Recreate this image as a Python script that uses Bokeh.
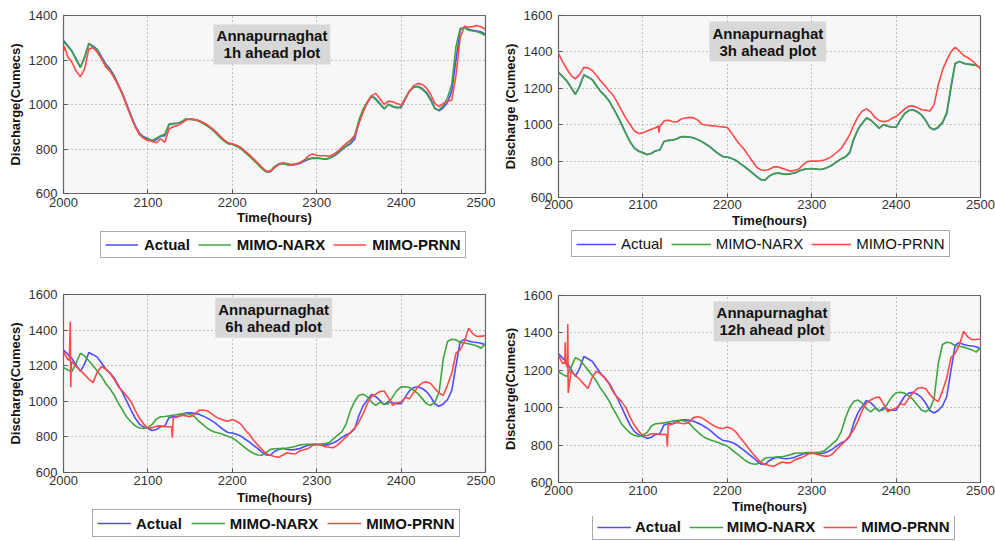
from bokeh.plotting import figure
from bokeh.models import Range1d, Legend, LegendItem, Label
from bokeh.layouts import column, row
from bokeh.embed import file_html
from bokeh.resources import INLINE

# Hourly discharge at Annapurnaghat (cumecs), sampled every 5 hours
HOURS = list(range(2000, 2501, 5))

ACTUAL = [
    1288, 1265, 1240, 1205, 1168, 1210, 1274, 1262, 1248, 1215,
    1183, 1160, 1131, 1090, 1049, 1000, 951, 905, 872, 855,
    847, 836, 842, 857, 860, 908, 914, 915, 922, 934,
    935, 932, 928, 918, 907, 893, 877, 857, 839, 825,
    822, 815, 805, 788, 772, 753, 735, 715, 698, 697,
    718, 730, 735, 730, 727, 730, 735, 745, 753, 758,
    759, 757, 754, 758, 767, 780, 797, 812, 822, 845,
    920, 975, 1008, 1038, 1026, 1004, 981, 1000, 992, 987,
    986, 1025, 1060, 1078, 1082, 1072, 1055, 1025, 985, 972,
    985, 1010, 1060, 1200, 1335, 1348, 1338, 1333, 1330, 1326,
    1315,
]

NARX_1H = [
    1282, 1262, 1238, 1200, 1166, 1215, 1272, 1258, 1244, 1210,
    1178, 1155, 1126, 1085, 1043, 994, 946, 900, 868, 852,
    845, 838, 848, 860, 866, 912, 914, 916, 924, 935,
    934, 930, 926, 915, 904, 890, 873, 853, 836, 824,
    820, 812, 802, 785, 768, 750, 732, 712, 697, 700,
    722, 733, 735, 729, 728, 732, 738, 748, 756, 760,
    760, 757, 755, 760, 770, 785, 800, 815, 828, 860,
    930, 980, 1012, 1038, 1022, 1000, 980, 1002, 990, 984,
    990, 1030, 1062, 1078, 1080, 1068, 1050, 1018, 980, 975,
    995, 1030, 1090, 1260, 1342, 1345, 1334, 1330, 1327, 1320,
    1310,
]

PRNN_1H = [
    1240, 1215, 1190, 1150, 1125, 1160, 1250, 1255, 1235, 1205,
    1170, 1150, 1120, 1085, 1045, 995, 945, 900, 865, 848,
    838, 835, 828, 845, 830, 890, 900, 905, 915, 930,
    934, 933, 928, 920, 909, 895, 880, 860, 842, 828,
    824, 817, 807, 790, 775, 757, 738, 718, 702, 700,
    715, 732, 738, 735, 730, 733, 738, 750, 768, 778,
    772, 770, 770, 768, 776, 790, 808, 825, 840, 860,
    915, 965, 1010, 1040, 1050, 1025, 1000, 1015, 1012, 1005,
    998, 1025, 1060, 1085, 1095, 1090, 1075, 1045, 1005, 990,
    1005, 1015, 1020, 1130, 1300, 1352, 1348, 1350, 1355, 1348,
    1338,
]
PRNN_1H_EXTRA_H = [2001]
PRNN_1H_EXTRA_V = [1262]

NARX_3H = [
    1286, 1264, 1238, 1203, 1166, 1212, 1272, 1261, 1246, 1213,
    1181, 1158, 1129, 1088, 1046, 998, 949, 903, 870, 853,
    845, 835, 843, 856, 862, 907, 913, 915, 923, 933,
    934, 931, 927, 917, 906, 891, 875, 855, 838, 824,
    821, 814, 804, 787, 770, 752, 733, 714, 697, 698,
    719, 731, 734, 730, 728, 731, 736, 746, 754, 758,
    758, 756, 754, 759, 768, 782, 798, 813, 824, 850,
    925, 978, 1010, 1036, 1024, 1002, 980, 1001, 991, 986,
    987, 1027, 1061, 1078, 1080, 1070, 1053, 1022, 983, 973,
    988, 1015, 1068, 1215, 1338, 1347, 1337, 1333, 1329, 1325,
    1314,
]

PRNN_3H = [
    1390, 1345, 1305, 1270, 1252, 1275, 1315, 1312, 1298, 1270,
    1240, 1215, 1185, 1160, 1120, 1076, 1035, 1000, 965, 952,
    955, 965, 975, 983, 990, 1020, 1025, 1018, 1015, 1030,
    1037, 1040, 1038, 1025, 1002, 998, 995, 993, 990, 988,
    985, 955, 920, 890, 865, 830, 798, 765, 752, 748,
    755, 768, 768, 760, 752, 745, 750, 757, 780, 798,
    800, 800, 802, 806, 815, 830, 850, 870, 905, 945,
    1000, 1045, 1075, 1087, 1070, 1040, 1022, 1017, 1020, 1035,
    1045, 1065, 1085, 1102, 1102, 1095, 1082, 1080, 1075, 1110,
    1220, 1300, 1355, 1400, 1425, 1405, 1380, 1368, 1352, 1330,
    1307,
]
PRNN_3H_EXTRA_H = [2118, 2119]
PRNN_3H_EXTRA_V = [993, 956]

NARX_6H = [
    1190, 1176, 1168, 1215, 1270, 1255, 1228, 1200, 1170, 1140,
    1100, 1070, 1035, 990, 950, 910, 885, 862, 850, 847,
    853, 870, 900, 913, 915, 918, 922, 926, 930, 932,
    926, 915, 890, 870, 850, 835, 826, 820, 812, 802,
    795, 778, 760, 740, 722, 708, 698, 697, 712, 730,
    733, 735, 736, 738, 742, 748, 755, 757, 758, 759,
    759, 760, 762, 768, 790, 810, 830, 874, 949, 1000,
    1034, 1040, 1025, 996, 977, 996, 983, 987, 1025, 1060,
    1081, 1082, 1077, 1062, 1043, 1015, 987, 977, 996, 1050,
    1240, 1336, 1349, 1345, 1330, 1328, 1323, 1318, 1311, 1298,
    1326,
]

PRNN_6H = [
    1277, 1235, 1222, 1195, 1174, 1150, 1125, 1105, 1165, 1196,
    1180, 1158, 1125, 1082, 1056, 1030, 998, 948, 905, 872,
    849, 852, 860, 862, 858, 857, 908, 912, 922, 918,
    913, 925, 948, 951, 947, 932, 914, 902, 893, 888,
    898, 888, 872, 840, 815, 783, 755, 730, 706, 697,
    690, 685, 698, 711, 706, 705, 722, 728, 735, 752,
    756, 754, 745, 742, 740, 755, 778, 800, 826, 850,
    883, 930, 987, 1028, 1040, 1055, 1058, 1021, 977, 991,
    996, 1021, 1015, 1050, 1081, 1104, 1109, 1100, 1072, 1045,
    1034, 1091, 1157, 1270, 1289, 1336, 1411, 1379, 1364, 1366,
    1368,
]
PRNN_6H_EXTRA_H = [2007, 2008, 2008.6, 2009.3, 2128, 2129]
PRNN_6H_EXTRA_V = [1230, 1447, 1079, 1222, 857, 796]

NARX_12H = [
    1192, 1178, 1166, 1218, 1268, 1256, 1230, 1202, 1172, 1142,
    1102, 1072, 1036, 992, 952, 912, 886, 864, 851, 846,
    852, 868, 902, 914, 916, 919, 923, 928, 931, 933,
    927, 916, 891, 871, 851, 836, 827, 821, 813, 803,
    795, 777, 759, 741, 722, 707, 699, 698, 713, 731,
    734, 735, 737, 738, 743, 749, 756, 758, 758, 760,
    760, 760, 763, 769, 789, 809, 829, 872, 945, 1002,
    1035, 1041, 1024, 995, 978, 997, 984, 988, 1024, 1058,
    1080, 1083, 1078, 1063, 1044, 1016, 988, 978, 995, 1048,
    1238, 1338, 1350, 1346, 1331, 1329, 1324, 1317, 1309, 1297,
    1322,
]

PRNN_12H = [
    1279, 1236, 1225, 1196, 1172, 1152, 1126, 1103, 1163, 1195,
    1181, 1157, 1126, 1083, 1055, 1031, 999, 947, 906, 874,
    850, 851, 861, 861, 857, 858, 906, 913, 921, 917,
    914, 924, 947, 952, 946, 931, 915, 901, 892, 889,
    897, 889, 871, 841, 814, 784, 756, 729, 707, 696,
    691, 686, 699, 710, 705, 706, 721, 729, 736, 751,
    757, 753, 746, 741, 741, 754, 779, 801, 825, 851,
    884, 931, 986, 1027, 1041, 1054, 1057, 1022, 978, 990,
    997, 1020, 1016, 1051, 1080, 1103, 1108, 1101, 1071, 1046,
    1033, 1090, 1158, 1268, 1290, 1337, 1409, 1378, 1363, 1365,
    1367,
]
PRNN_12H_EXTRA_H = [2007.5, 2008, 2008.5, 2010.5, 2011, 2011.5, 2128, 2129]
PRNN_12H_EXTRA_V = [1240, 1350, 1235, 1215, 1447, 1079, 857, 792]

X_TICKS = [2000, 2100, 2200, 2300, 2400, 2500]
Y_TICKS_1H = [600, 800, 1000, 1200, 1400]
Y_TICKS = [600, 800, 1000, 1200, 1400, 1600]
SERIES_NAMES = ["Actual", "MIMO-NARX", "MIMO-PRNN"]

FONT = "Liberation Sans"
COLORS = ["#4d4dff", "#3fa53f", "#ff4848"]
LINE_W = 1.6


def with_spikes(hours, values, extra_h, extra_v):
    pts = sorted(zip(list(hours) + list(extra_h), list(values) + list(extra_v)))
    return [h for h, _ in pts], [v for _, v in pts]


def chart(cfg, narx, prnn_h, prnn_v):
    p = figure(width=cfg["w"], height=cfg["h"],
               x_range=Range1d(2000, 2500), y_range=Range1d(600, cfg["ymax"]),
               output_backend="svg", toolbar_location=None,
               min_border_left=63, min_border_right=cfg["br"],
               min_border_top=cfg["bt"], min_border_bottom=cfg["bb"],
               background_fill_color="#f7f7f7", border_fill_color="white",
               outline_line_color="#666666", outline_line_width=1.2)

    for ax in (p.xaxis[0], p.yaxis[0]):
        ax.axis_line_color = None
        ax.major_tick_in = 4
        ax.major_tick_out = 0
        ax.major_tick_line_color = "#555555"
        ax.minor_tick_line_color = None
        ax.major_label_text_font = FONT
        ax.major_label_text_font_size = "13px"
        ax.major_label_text_color = "#333333"
        ax.axis_label_text_font = FONT
        ax.axis_label_text_font_size = "13px"
        ax.axis_label_text_font_style = "bold"
        ax.axis_label_text_color = "#111111"

    p.xaxis.ticker = X_TICKS
    p.yaxis.ticker = cfg["yticks"]
    p.xaxis.axis_label = "Time(hours)"
    p.yaxis.axis_label = cfg["ylabel"]
    p.xaxis.major_label_standoff = cfg["xls"]
    p.xaxis.axis_label_standoff = cfg["xas"]
    p.yaxis.major_label_standoff = 6
    p.yaxis.axis_label_standoff = 3

    for g in (p.xgrid[0], p.ygrid[0]):
        g.grid_line_color = "#8a8a8a"
        g.grid_line_dash = "1 3"
        g.grid_line_width = 1

    p.line(HOURS, ACTUAL, color=COLORS[0], line_width=LINE_W)
    p.line(HOURS, narx, color=COLORS[1], line_width=LINE_W)
    p.line(prnn_h, prnn_v, color=COLORS[2], line_width=LINE_W)

    p.add_layout(Label(x=cfg["tx"], y=cfg["ty"], text=cfg["title"],
                       text_align="center", text_baseline="top",
                       text_font=FONT, text_font_size="15px",
                       text_font_style="bold", text_color="#111111",
                       text_line_height=1.0,
                       background_fill_color="#d8d8d8", padding=3))
    return p


def legend_strip(cfg):
    # a bare strip under each chart that only carries the boxed, horizontal legend;
    # its frame lines up with the chart frame above it
    s = figure(width=cfg["w"], height=cfg["sh"], x_range=Range1d(0, 1), y_range=Range1d(0, 1),
               x_axis_type=None, y_axis_type=None,
               output_backend="svg", toolbar_location=None, min_border=0,
               outline_line_color=None, background_fill_color="white",
               border_fill_color="white")
    s.grid.visible = False
    # key lines sit outside the strip's ranges, so only their legend swatches show
    keys = [s.line([5, 6], [5, 6], color=c, line_width=LINE_W) for c in COLORS]
    leg = Legend(items=[LegendItem(label=n, renderers=[r]) for n, r in zip(SERIES_NAMES, keys)],
                 orientation="horizontal", location=(cfg["lx"], cfg["ly"]),
                 padding=4, margin=0,
                 glyph_width=cfg["gw"], glyph_height=cfg["gh"],
                 label_height=cfg["gh"], label_standoff=cfg["lst"],
                 spacing=cfg["lsp"],
                 label_text_font=FONT, label_text_font_size="15px",
                 label_text_font_style=cfg["lstyle"], label_text_color="#111111",
                 border_line_color="#555555", border_line_width=1.2,
                 background_fill_color="white", background_fill_alpha=1)
    s.add_layout(leg)
    return s


c1 = chart(dict(w=495, h=230, br=10, bt=15, bb=37, ymax=1400, yticks=Y_TICKS_1H,
                ylabel="Discharge(Cumecs)", title="Annapurnaghat\n1h ahead plot",
                tx=2247, ty=1360, xls=4, xas=0),
           NARX_1H, *with_spikes(HOURS, PRNN_1H, PRNN_1H_EXTRA_H, PRNN_1H_EXTRA_V))
l1 = legend_strip(dict(w=495, sh=40, lx=37, ly=12, gw=33, gh=17, lst=6, lsp=8, lstyle="bold"))

c2 = chart(dict(w=500, h=230, br=15, bt=15, bb=33, ymax=1600, yticks=Y_TICKS,
                ylabel="Discharge (Cumecs)", title="Annapurnaghat\n3h ahead plot",
                tx=2248, ty=1567, xls=2, xas=1),
           NARX_3H, *with_spikes(HOURS, PRNN_3H, PRNN_3H_EXTRA_H, PRNN_3H_EXTRA_V))
l2 = legend_strip(dict(w=500, sh=40, lx=13, ly=13, gw=40, gh=16, lst=5, lsp=8, lstyle="normal"))

c3 = chart(dict(w=495, h=237, br=10, bt=24, bb=35, ymax=1600, yticks=Y_TICKS,
                ylabel="Discharge(Cumecs)", title="Annapurnaghat\n6h ahead plot",
                tx=2249, ty=1582, xls=3, xas=2),
           NARX_6H, *with_spikes(HOURS, PRNN_6H, PRNN_6H_EXTRA_H, PRNN_6H_EXTRA_V))
l3 = legend_strip(dict(w=495, sh=34, lx=29, ly=4, gw=34, gh=18, lst=5, lsp=9, lstyle="bold"))

c4 = chart(dict(w=500, h=246, br=15, bt=25, bb=34, ymax=1600, yticks=Y_TICKS,
                ylabel="Discharge(Cumecs)", title="Annapurnaghat\n12h ahead plot",
                tx=2253, ty=1568, xls=3, xas=1),
           NARX_12H, *with_spikes(HOURS, PRNN_12H, PRNN_12H_EXTRA_H, PRNN_12H_EXTRA_V))
l4 = legend_strip(dict(w=500, sh=25, lx=34, ly=1, gw=34, gh=14, lst=4, lsp=8, lstyle="bold"))

layout = column(row(column(c1, l1), column(c2, l2)),
                row(column(c3, l3), column(c4, l4)))

with open("out.html", "w") as f:
    f.write(file_html(layout, INLINE))
